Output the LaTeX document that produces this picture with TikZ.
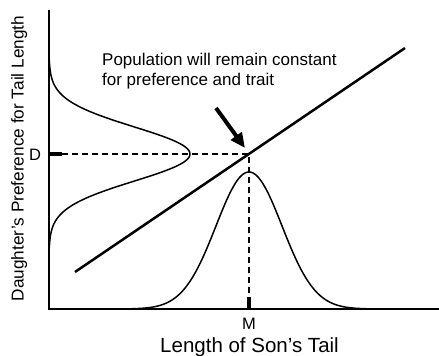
\documentclass[tikz,border=0pt]{standalone}
\usepackage{fontspec}
\setmainfont{Liberation Sans}
\usetikzlibrary{arrows.meta}
\tikzset{
  axisline/.style={line width=2.5pt},
  curveline/.style={line width=1.5pt},
  dashline/.style={line width=1.5pt,dash pattern=on 6pt off 4pt},
  tickline/.style={line width=4pt}}
\newcommand{\lblfont}{\fontsize{16.5}{19}\selectfont}
\newcommand{\notefont}{\fontsize{17}{20}\selectfont}
\begin{document}
\begin{tikzpicture}[x=1pt,y=-1pt]
\useasboundingbox (0,0) rectangle (439,356);
\coordinate (ytop) at (49,9.5);
\coordinate (origin) at (49,309);
\coordinate (xend) at (439,309);
\coordinate (eq) at (249,154);
\coordinate (dtick) at (62,154);
\coordinate (mtick) at (249,297);
\coordinate (mbase) at (249,309);
\coordinate (dbase) at (49,154);
\coordinate (diagA) at (75,272);
\coordinate (diagB) at (405,48);
\coordinate (arrA) at (216,108);
\coordinate (arrB) at (245,148);
% axes
\draw[axisline,line join=miter] (ytop) -- (origin) -- (xend);
% distributions
\draw[curveline] plot[domain=60:248,samples=120,smooth] ({49+141*exp(-((\x-154)^2)/1458)},\x);
\draw[curveline] plot[domain=130:370,samples=120,smooth] (\x,{309-137*exp(-((\x-249)^2)/2178)});
% dashed guides
\draw[dashline] (dtick) -- (eq) -- (mtick);
\draw[tickline] (dbase) -- (dtick);
\draw[tickline] (mbase) -- (mtick);
% diagonal
\draw[line width=2.5pt] (diagA) -- (diagB);
% arrow
\draw[line width=4pt,-{Triangle[length=15pt,width=13pt]}] (arrA) -- (arrB);
% labels
\node[inner sep=0pt,anchor=base,font=\lblfont] (dlab) at (35,160) {D};
\node[inner sep=0pt,anchor=base,font=\lblfont] (mlab) at (249,329) {M};
\node[inner sep=0pt,anchor=base,font=\fontsize{20.5}{24}\selectfont] (xlab) at (249.5,352) {Length of Son’s Tail};
\node[inner sep=0pt,anchor=base,rotate=90,font=\fontsize{17.2}{20}\selectfont] (ylab) at (23.5,158.5) {Daughter’s Preference for Tail Length};
\node[inner sep=0pt,anchor=base west,font=\notefont] (note1) at (102,65) {Population will remain constant};
\node[inner sep=0pt,anchor=base west,font=\notefont] (note2) at (102,85) {for preference and trait};
\end{tikzpicture}
\end{document}
